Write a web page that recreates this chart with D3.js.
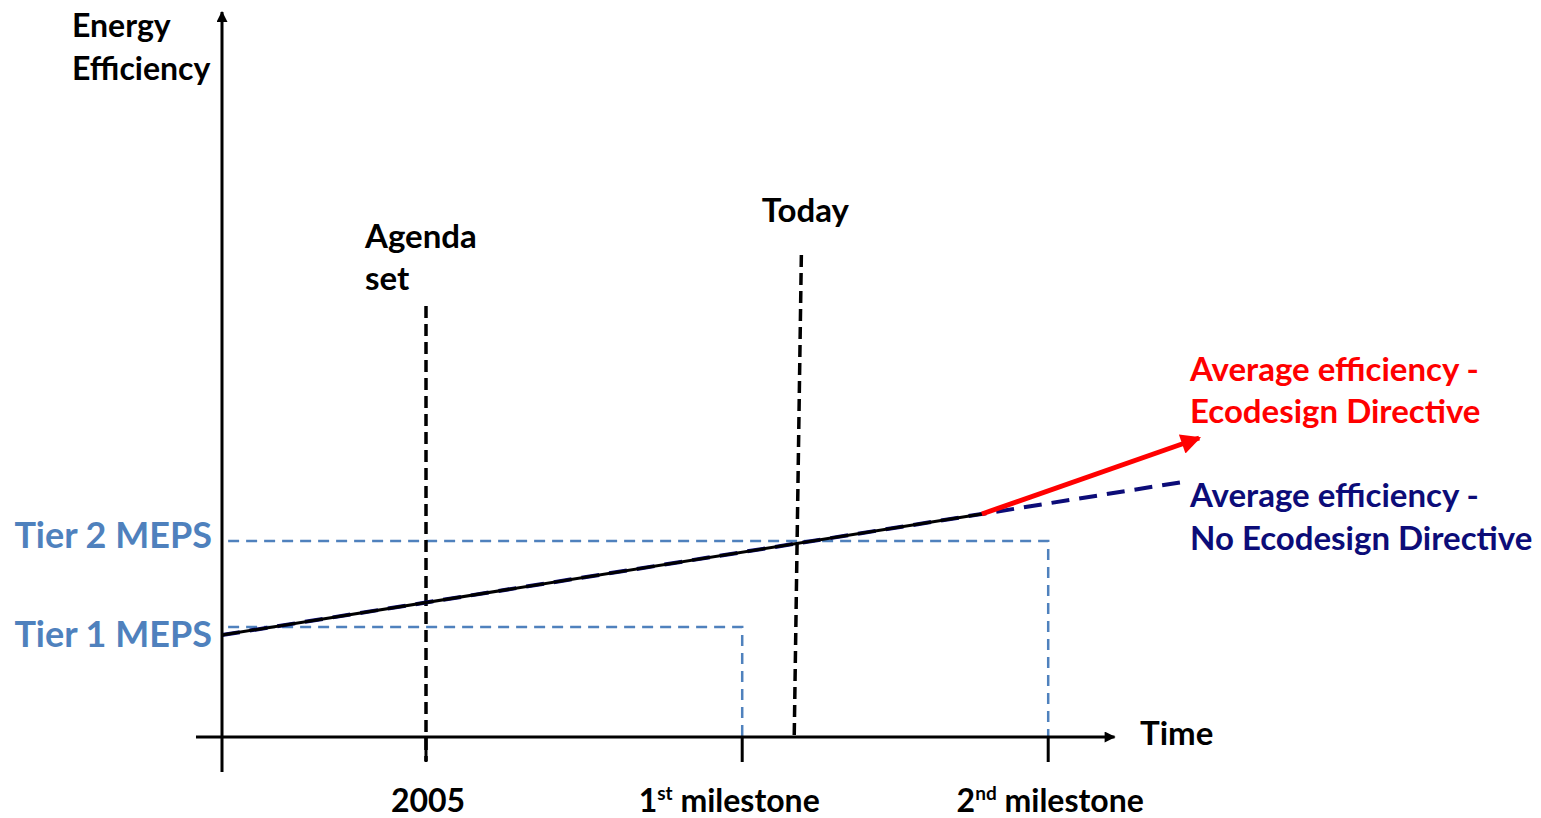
<!DOCTYPE html>
<html>
<head>
<meta charset="utf-8">
<script src="https://cdn.jsdelivr.net/npm/d3@7"></script>
<style>
  html, body { margin: 0; padding: 0; background: #fff; }
  svg { display: block; font-family: Lato, "Open Sans", sans-serif; font-weight: 700; }
</style>
</head>
<body>
<svg id="chart" width="1541" height="818"></svg>
<script>
// Time positions (abstract units) and labels for the milestones on the time axis
const milestoneTimes = [2, 5.1, 8.1];
const milestoneMain = ["2005", "1", "2"];
const milestoneSup = ["", "st", "nd"];
const milestoneTail = ["", " milestone", " milestone"];

// Minimum energy performance standards: level and the milestone when they apply
const mepsLabels = ["Tier 1 MEPS", "Tier 2 MEPS"];
const mepsLevels = [11, 19.6];
const mepsDeadlines = [5.1, 8.1];

// Observed average efficiency up to the split point
const trendTimes = [0, 7.45];
const trendValues = [10.2, 22.3];

// Projection with the Ecodesign Directive
const ecoTimes = [7.45, 9.58];
const ecoValues = [22.3, 29.9];

// Projection without the Ecodesign Directive
const noEcoTimes = [0, 9.48];
const noEcoValues = [10.2, 25.6];

// Event markers: vertical dashed lines (top time, bottom time, top level)
const eventNames = ["Agenda set", "Today"];
const eventTopTimes = [2, 5.68];
const eventBottomTimes = [2, 5.61];
const eventTopLevels = [43.1, 48.2];
const eventBottomLevels = [-2.4, 0];

const svg = d3.select("#chart");
const x = d3.scaleLinear().domain([0, 10]).range([222, 1242]);
const y = d3.scaleLinear().domain([0, 72.5]).range([737, 12]);

const mepsBlue = "#4f81bd";
const navy = "#0c0c78";
const red = "#ff0000";

// Arrowhead markers
const defs = svg.append("defs");
function marker(id, color, w, h) {
  defs.append("marker")
    .attr("id", id).attr("viewBox", "0 0 10 10")
    .attr("refX", 9).attr("refY", 5)
    .attr("markerWidth", w).attr("markerHeight", h)
    .attr("markerUnits", "userSpaceOnUse")
    .attr("orient", "auto")
    .append("path").attr("d", "M0,0 L10,5 L0,10 Z").attr("fill", color);
}
marker("arrowBlack", "#000", 14, 11);
marker("arrowRed", red, 24, 20);

const line = d3.line().x(d => x(d[0])).y(d => y(d[1]));

// MEPS thresholds: horizontal dashed level, then down to the time axis
const mepsLabelShift = [20, 7];
mepsLabels.forEach((lab, i) => {
  const pts = [[0.06, mepsLevels[i]], [mepsDeadlines[i], mepsLevels[i]], [mepsDeadlines[i], 0]];
  svg.append("path").attr("d", line(pts))
    .attr("fill", "none").attr("stroke", mepsBlue)
    .attr("stroke-width", 2.5).attr("stroke-dasharray", "11 7");
  svg.append("text")
    .attr("x", x(0) - 10).attr("y", y(mepsLevels[i]) + mepsLabelShift[i])
    .attr("text-anchor", "end").attr("fill", mepsBlue)
    .attr("font-size", 36).text(lab);
});

// Event markers
eventNames.forEach((name, i) => {
  svg.append("path")
    .attr("d", line([[eventTopTimes[i], eventTopLevels[i]], [eventBottomTimes[i], eventBottomLevels[i]]]))
    .attr("stroke", "#000").attr("stroke-width", 3.5)
    .attr("stroke-dasharray", "12 6").attr("fill", "none");
});
const agenda = svg.append("text").attr("font-size", 33).attr("fill", "#000");
agenda.append("tspan").attr("x", x(eventTopTimes[0]) - 61).attr("y", 248).text("Agenda");
agenda.append("tspan").attr("x", x(eventTopTimes[0]) - 61).attr("y", 290).text("set");
svg.append("text")
  .attr("x", x(eventTopTimes[1]) + 4).attr("y", 222)
  .attr("text-anchor", "middle").attr("font-size", 33).text("Today");

// Projection without Ecodesign (navy dashed)
svg.append("path")
  .attr("d", line(noEcoTimes.map((t, i) => [t, noEcoValues[i]])))
  .attr("fill", "none").attr("stroke", navy)
  .attr("stroke-width", 4).attr("stroke-dasharray", "18 10");

// Observed trend (black)
svg.append("path")
  .attr("d", line(trendTimes.map((t, i) => [t, trendValues[i]])))
  .attr("fill", "none").attr("stroke", "#000").attr("stroke-width", 3);

// Projection with Ecodesign (red arrow)
svg.append("path")
  .attr("d", line(ecoTimes.map((t, i) => [t, ecoValues[i]])))
  .attr("fill", "none").attr("stroke", red).attr("stroke-width", 5)
  .attr("marker-end", "url(#arrowRed)");

// Axes
svg.append("line")
  .attr("x1", x(-0.255)).attr("y1", y(0)).attr("x2", x(8.75)).attr("y2", y(0))
  .attr("stroke", "#000").attr("stroke-width", 3).attr("marker-end", "url(#arrowBlack)");
svg.append("line")
  .attr("x1", x(0)).attr("y1", y(-3.5)).attr("x2", x(0)).attr("y2", y(72.5))
  .attr("stroke", "#000").attr("stroke-width", 3).attr("marker-end", "url(#arrowBlack)");

// Milestone ticks below the axis
svg.selectAll("line.tick").data(milestoneTimes).join("line")
  .attr("class", "tick")
  .attr("x1", d => x(d)).attr("x2", d => x(d))
  .attr("y1", y(0)).attr("y2", y(-2.5))
  .attr("stroke", "#000").attr("stroke-width", 3);

const milestoneNudge = [2, -13, 2];
milestoneTimes.forEach((t, i) => {
  const txt = svg.append("text")
    .attr("x", x(t) + milestoneNudge[i]).attr("y", 812)
    .attr("text-anchor", "middle").attr("font-size", 32);
  txt.append("tspan").text(milestoneMain[i]);
  if (milestoneSup[i]) {
    txt.append("tspan").attr("font-size", 19).attr("dy", -12).text(milestoneSup[i]);
    txt.append("tspan").attr("dy", 12).text(milestoneTail[i]);
  }
});

// Axis titles
svg.append("text").attr("x", 1140).attr("y", 745).attr("font-size", 33).text("Time");
const yTitle = svg.append("text").attr("font-size", 32);
yTitle.append("tspan").attr("x", 72).attr("y", 37).text("Energy");
yTitle.append("tspan").attr("x", 72).attr("y", 80).text("Efficiency");

// Series labels
const ecoLab = svg.append("text").attr("font-size", 33).attr("fill", red);
ecoLab.append("tspan").attr("x", 1190).attr("y", 381).text("Average efficiency -");
ecoLab.append("tspan").attr("x", 1190).attr("y", 423).text("Ecodesign Directive");
const noEcoLab = svg.append("text").attr("font-size", 33).attr("fill", navy);
noEcoLab.append("tspan").attr("x", 1190).attr("y", 507).text("Average efficiency -");
noEcoLab.append("tspan").attr("x", 1190).attr("y", 550).text("No Ecodesign Directive");
</script>
</body>
</html>
